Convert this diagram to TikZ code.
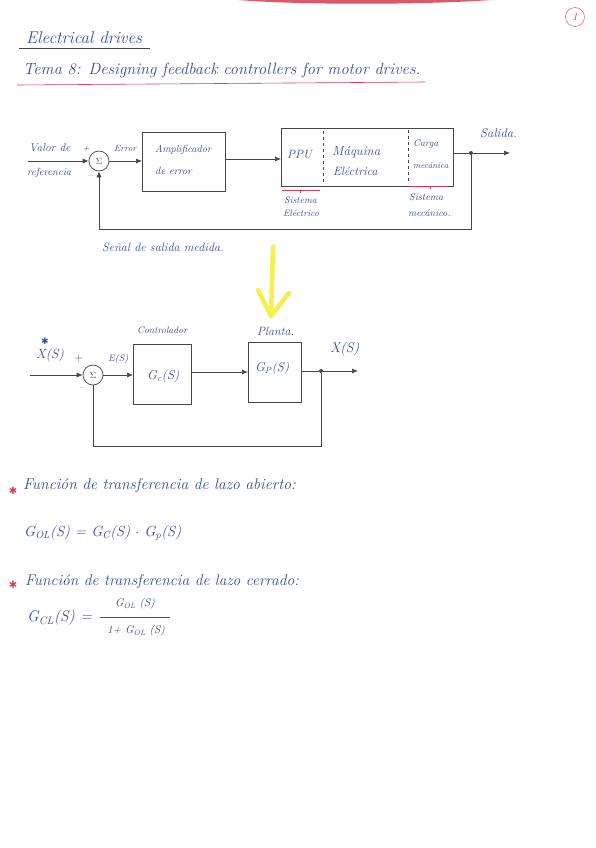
\documentclass[tikz,border=0pt]{standalone}
\usepackage{fontspec}
\setmainfont{Latin Modern Roman}
\newfontfamily\dvfont{DejaVu Sans}
\usetikzlibrary{arrows.meta,calc}
\definecolor{ink}{RGB}{55,75,160}
\definecolor{pen}{RGB}{70,70,70}
\definecolor{redink}{RGB}{215,60,80}
\definecolor{hl}{RGB}{245,240,80}
\newcommand{\fs}[1]{\itshape\fontsize{#1}{#1}\selectfont}
\begin{document}
\begin{tikzpicture}[x=1pt,y=-1pt,
  txt/.style={text=ink,font=\fs{9},inner sep=0pt},
  blk/.style={draw=pen,line width=0.7pt,fill=none},
  sumnode/.style={draw=pen,circle,line width=0.7pt,minimum size=20pt,inner sep=0pt,text=ink,font=\fontsize{9}{10}\selectfont},
  conn/.style={draw=pen,line width=0.7pt},
  arr/.style={conn,-{Latex[length=6pt,width=5pt]}},
  dotnode/.style={circle,fill=pen,minimum size=4pt,inner sep=0pt},
  dashsep/.style={draw=pen,line width=0.7pt,dashed},
  redline/.style={draw=redink,line width=0.6pt},
  redstar/.style={text=redink,font=\dvfont\fontsize{10}{10}\selectfont,inner sep=0pt}]
\useasboundingbox (0,0) rectangle (595,848);
\fill[white] (0,0) rectangle (595,848);
% top red smear
\fill[redink,opacity=0.85] (238,0) .. controls (300,5) and (420,5) .. (492,0) -- cycle;
% page number
\node[draw=redink,circle,minimum size=19pt,inner sep=0pt,text=redink,font=\fs{11}] (pgnum) at (575,17) {1};
% titles
\node[txt,font=\fs{17},anchor=west] (title) at (26,38) {Electrical drives};
\draw[draw=pen,line width=0.7pt] (19,48) -- (150,48);
\node[txt,font=\fs{16.3},anchor=west] (tema) at (23,70) {Tema 8: Designing feedback controllers for motor drives.};
\draw[redline] (17,85) -- (425,82);

% ===== diagram 1 =====
\node[sumnode] (s1) at (99,161) {$\Sigma$};
\coordinate (in1) at (28,161);
\node[txt,font=\fs{11.4},anchor=west] (valor) at (29,148) {Valor de};
\node[txt,font=\fs{10.3},anchor=west] (ref) at (27,173) {referencia};
\node[txt,font=\fs{10}] (p1) at (86,149) {+};
\node[txt] (m1) at (91,177) {--};
\node[txt,anchor=west] (err) at (114,148) {Error};
\node[blk,minimum width=83pt,minimum height=59pt,anchor=north west] (amp) at (142,132) {};
\node[txt,font=\fs{10.2},anchor=west] (ampt) at (155,150) {Amplificador};
\node[txt,font=\fs{10.4},anchor=west] (ampt2) at (155,171) {de error};
\node[blk,minimum width=172pt,minimum height=58pt,anchor=north west] (plant1) at (281,128) {};
\draw[dashsep] (323,131) -- (323,184);
\draw[dashsep] (408,130) -- (408,184);
\node[txt,font=\fs{12},anchor=west] (ppu) at (287,155) {PPU};
\node[txt,font=\fs{13},anchor=west] (maq) at (332,152) {Máquina};
\node[txt,font=\fs{12},anchor=west] (elec) at (333,171) {Eléctrica};
\node[txt,font=\fs{9.8},anchor=west] (carga) at (413,144) {Carga};
\node[txt,font=\fs{8.7},anchor=west] (mecan) at (413,166) {mecánica};
\draw[redline] (282,190) -- (320,190);
\draw[redline] (410,186) -- (448,186);
\draw[redline] (300,190) -- (300,193);
\draw[redline] (430,186) -- (430,189);
\node[txt,font=\fs{9.6},anchor=west] (se1) at (284,200) {Sistema};
\node[txt,font=\fs{9.2},anchor=west] (se2) at (283,213) {Eléctrico};
\node[txt,font=\fs{10},anchor=west] (sm1) at (409,197) {Sistema};
\node[txt,font=\fs{10},anchor=west] (sm2) at (408,213) {mecánico.};
\node[dotnode] (d1) at (471,153) {};
\coordinate (out1) at (510,153);
\node[txt,font=\fs{12.7},anchor=west] (salida) at (480,133) {Salida.};
\node[txt,font=\fs{12.1},anchor=west] (senal) at (102,247) {Señal de salida medida.};
\draw[arr] (in1) -- (s1.west);
\draw[arr] (s1.east) -- (amp.west |- s1.east);
\draw[arr] (amp.east |- 0,159) -- (plant1.west |- 0,159);
\draw[conn] (plant1.east |- d1) -- (d1);
\draw[arr] (d1) -- (out1);
\draw[arr] (d1) |- (99,229) -- (s1.south);

% yellow arrow
\coordinate (ya) at (273,247);
\coordinate (yb) at (271,316);
\draw[hl,line width=4.5pt,line cap=round,line join=round] (ya) -- (yb);
\draw[hl,line width=4.5pt,line cap=round,line join=round] (258,290) -- (yb) -- (289,293);

% ===== diagram 2 =====
\node[sumnode] (s2) at (93,375) {$\Sigma$};
\coordinate (in2) at (30,375);
\node[txt,font=\fs{13.3},anchor=west] (xs) at (36,355) {X(S)};
\node[txt,font=\dvfont\fontsize{9}{9}\selectfont] (xstar) at (45,341) {✱};
\node[txt,font=\fontsize{12}{12}\selectfont] (p2) at (79,359) {+};
\node[txt] (m2) at (82,389) {--};
\node[txt,font=\fs{9.5},anchor=west] (es) at (108,359) {E(S)};
\node[blk,minimum width=58pt,minimum height=60pt,anchor=north west] (gc) at (133,344) {};
\node[txt,font=\fs{13},anchor=west] (gct) at (147,376) {G\textsubscript{c}(S)};
\node[txt,font=\fs{9.6},anchor=west] (ctrl) at (137,330) {Controlador};
\node[blk,minimum width=53pt,minimum height=60pt,anchor=north west] (gp) at (248,342) {};
\node[txt,font=\fs{12.9},anchor=west] (gpt) at (255,368) {G\textsubscript{P}(S)};
\node[txt,font=\fs{12},anchor=west] (planta) at (257,331) {Planta.};
\node[dotnode] (d2) at (321,371) {};
\coordinate (out2) at (358,371);
\node[txt,font=\fs{14},anchor=west] (xout) at (330,349) {X(S)};
\draw[arr] (in2) -- (s2.west);
\draw[arr] (s2.east) -- (gc.west |- s2.east);
\draw[arr] (gc.east |- 0,372) -- (gp.west |- 0,372);
\draw[conn] (gp.east |- d2) -- (d2);
\draw[arr] (d2) -- (out2);
\draw[conn] (d2) |- (93,446) -- (s2.south);

% ===== equations =====
\node[redstar] (ast1) at (13,491) {✱};
\node[txt,font=\fs{15.6},anchor=west] (f1) at (23,486) {Función de transferencia de lazo abierto:};
\node[txt,font=\fs{14.7},anchor=west] (eq1) at (24,533) {G\textsubscript{OL}(S) = G\textsubscript{C}(S) $\cdot$ G\textsubscript{p}(S)};
\node[redstar] (ast2) at (13,585) {✱};
\node[txt,font=\fs{15.5},anchor=west] (f2) at (25,582) {Función de transferencia de lazo cerrado:};
\node[txt,font=\fs{15.5},anchor=west] (eq2l) at (27,618) {G\textsubscript{CL}(S) =};
\node[txt,font=\fs{11}] (num) at (135,604) {G\textsubscript{OL} (S)};
\draw[draw=ink,line width=0.6pt] (100,617) -- (170,617);
\node[txt,font=\fs{11}] (den) at (136,631) {1+ G\textsubscript{OL} (S)};
\end{tikzpicture}
\end{document}
